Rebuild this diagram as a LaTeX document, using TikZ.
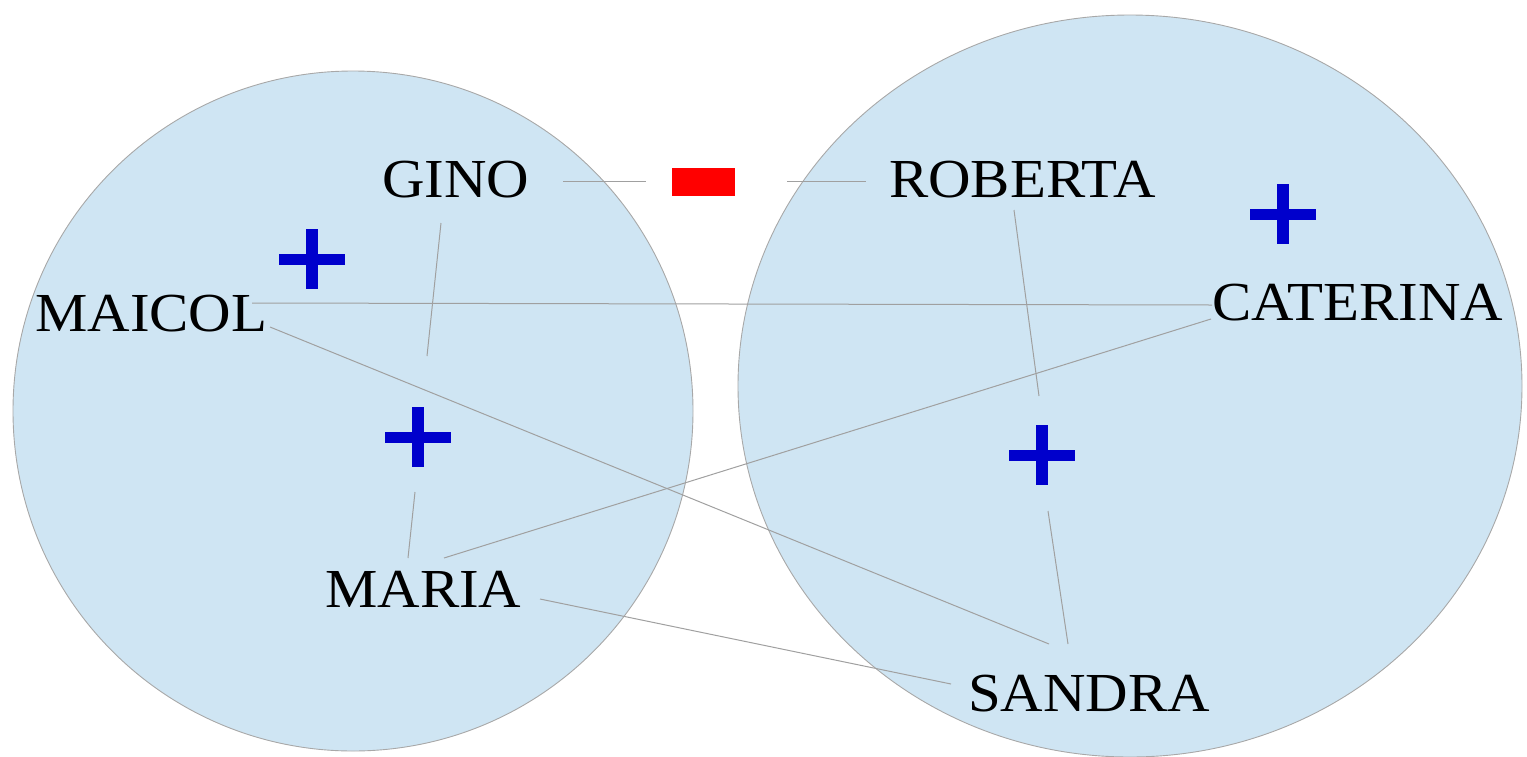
\documentclass[tikz,border=0pt]{standalone}
\usepackage{fontspec}
\usepackage{graphicx}
\newfontfamily\namefont{Liberation Serif}
\newcommand{\wide}[1]{\scalebox{1.07}[1]{#1}}
\definecolor{setfill}{HTML}{CFE5F3}
\definecolor{setline}{HTML}{A8A8A8}
\definecolor{linkgray}{HTML}{A0A0A0}
\definecolor{plusblue}{HTML}{0000CC}
\definecolor{minusred}{HTML}{FF0000}
\begin{document}
\begin{tikzpicture}[x=1pt,y=-1pt,
  groupset/.style={fill=setfill,draw=setline,line width=0.9pt},
  person/.style={font=\namefont\fontsize{55}{60}\selectfont,inner sep=0pt,anchor=base west},
  link/.style={draw=linkgray,line width=1pt},
  pics/plus/.style={code={
    \fill[plusblue] (-33,-5.5) rectangle (33,5.5);
    \fill[plusblue] (-6,-30) rectangle (6,30);
  }}]
\useasboundingbox (0,0) rectangle (1527,756);

% the two groups
\path[groupset] (353,411) circle [radius=340];
\path[groupset] (1130,386) ellipse [x radius=392, y radius=371];

% names
\node[person] (gino)     at (382,197) {\wide{GINO}};
\node[person] (roberta)  at (889,197) {\wide{ROBERTA}};
\node[person] (maicol)   at (35,331)  {\wide{MAICOL}};
\node[person] (caterina) at (1212,320) {\wide{CATERINA}};
\node[person] (maria)    at (325,607) {\wide{MARIA}};
\node[person] (sandra)   at (968,711) {\wide{SANDRA}};

% signs of the relations
\node[fill=minusred,minimum width=63pt,minimum height=28pt,inner sep=0pt] (minus) at (703.5,182) {};
\pic (plusA) at (312,259) {plus};
\pic (plusB) at (418,437) {plus};
\pic (plusC) at (1283,214) {plus};
\pic (plusD) at (1042,455) {plus};

% ends of the links
\coordinate (gino-e)     at (563,181);
\coordinate (minus-w)    at (646,181);
\coordinate (minus-e)    at (787,181);
\coordinate (roberta-w)  at (866,181);
\coordinate (gino-s)     at (441,223);
\coordinate (plusB-n)    at (427,356);
\coordinate (plusB-s)    at (415,492);
\coordinate (maria-n)    at (408,558);
\coordinate (maria-ne)   at (444,558);
\coordinate (maria-e)    at (540,599);
\coordinate (maicol-e)   at (252,303);
\coordinate (maicol-se)  at (270,327);
\coordinate (caterina-w) at (1212,305);
\coordinate (caterina-sw) at (1211,319);
\coordinate (roberta-s)  at (1014,210);
\coordinate (plusD-n)    at (1039,396);
\coordinate (plusD-s)    at (1048,511);
\coordinate (sandra-n)   at (1068,644);
\coordinate (sandra-nw)  at (1049,644);
\coordinate (sandra-w)   at (951,684);

% links
\draw[link] (gino-e) -- (minus-w);
\draw[link] (minus-e) -- (roberta-w);
\draw[link] (gino-s) -- (plusB-n);
\draw[link] (plusB-s) -- (maria-n);
\draw[link] (maicol-e) -- (caterina-w);
\draw[link] (maicol-se) -- (sandra-nw);
\draw[link] (caterina-sw) -- (maria-ne);
\draw[link] (maria-e) -- (sandra-w);
\draw[link] (roberta-s) -- (plusD-n);
\draw[link] (plusD-s) -- (sandra-n);
\end{tikzpicture}
\end{document}
